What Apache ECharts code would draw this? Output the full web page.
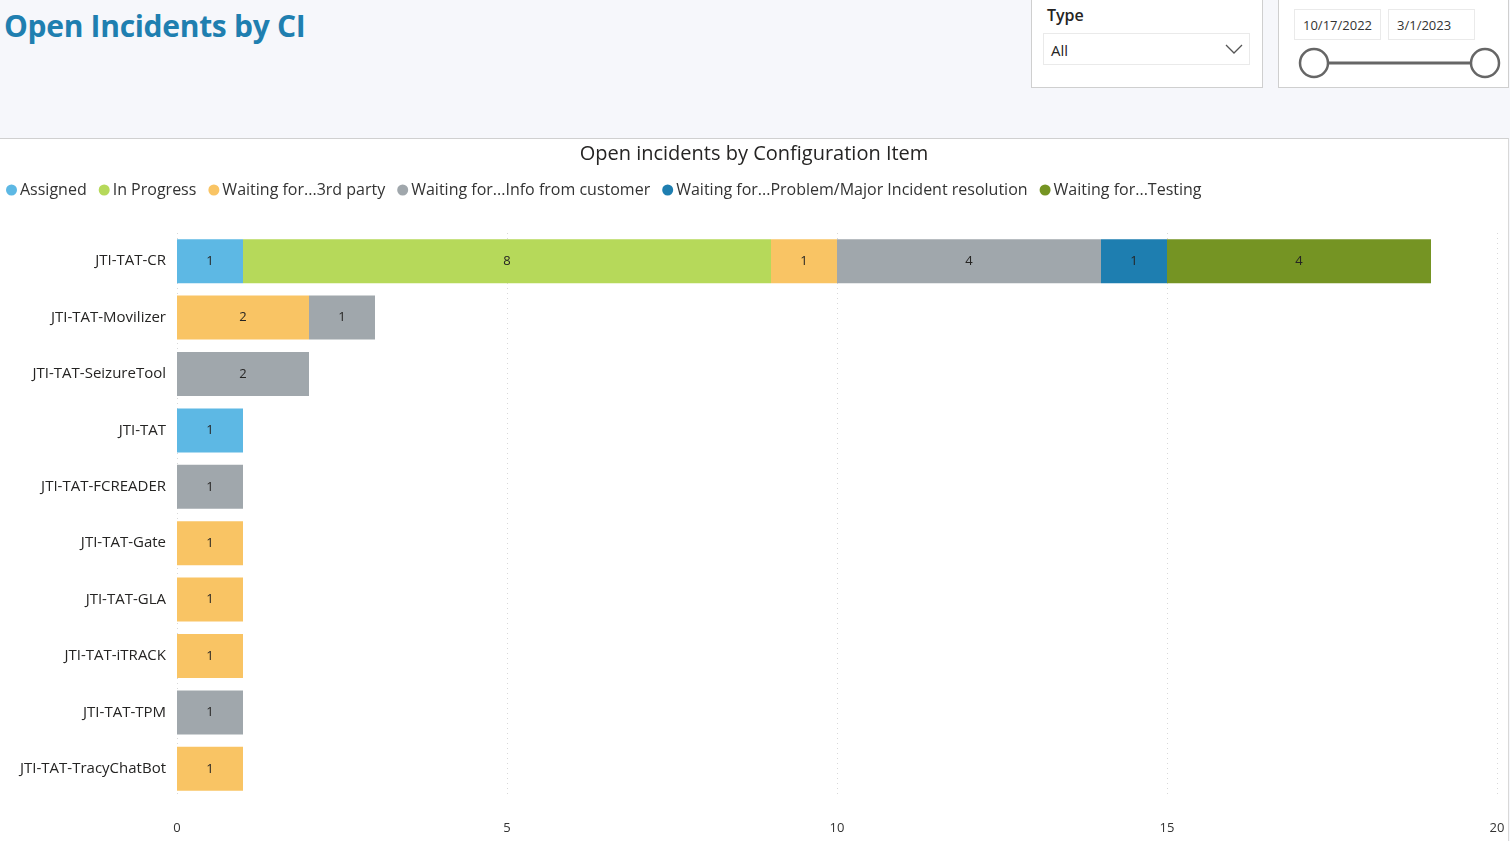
<!DOCTYPE html>
<html>
<head>
<meta charset="utf-8">
<title>Open Incidents by CI</title>
<script src="https://cdn.jsdelivr.net/npm/echarts@6/dist/echarts.min.js"></script>
<style>
    body { margin: 0; background: #f6f7fb; font-family: "Open Sans", "Noto Sans", sans-serif; }
    #page { position: relative; width: 1510px; height: 841px; overflow: hidden; }
    #page-title { position: absolute; left: 4px; top: 5px; font-size: 30px; font-weight: bold; color: #1f7fb0; letter-spacing: -0.3px; }
    .slicer { position: absolute; top: -1px; height: 89px; background: #fff; border: 1px solid #cfcfcf; box-sizing: border-box; }
    #type-slicer { left: 1031px; width: 232px; }
    #date-slicer { left: 1278px; width: 231px; }
    #type-label { position: absolute; left: 15px; top: 4px; font-size: 16px; font-weight: 600; color: #252423; }
    #type-box { position: absolute; left: 11px; top: 33px; width: 207px; height: 32px; border: 1px solid #eaeaea; box-sizing: border-box; font-size: 15px; color: #252423; padding: 6px 0 0 7px; }
    #type-box svg { position: absolute; right: 6px; top: 9px; }
    .date-box { position: absolute; top: 9px; height: 31px; border: 1px solid #eaeaea; box-sizing: border-box; font-size: 13px; color: #333; padding: 6px 0 0 8px; }
    #date-from { left: 15px; width: 87px; }
    #date-to { left: 109px; width: 87px; }
    #chart { position: absolute; left: 0; top: 138px; width: 1509px; height: 703px; background: #fff; border-top: 1px solid #d0d0d0; border-right: 1px solid #d8d8d8; box-sizing: border-box; }
</style>
</head>
<body>
<div id="page">
    <div id="page-title">Open Incidents by CI</div>
    <div class="slicer" id="type-slicer">
        <div id="type-label">Type</div>
        <div id="type-box">All
            <svg width="18" height="12"><polyline points="1,2 9,10 17,2" fill="none" stroke="#555" stroke-width="1.3"/></svg>
        </div>
    </div>
    <div class="slicer" id="date-slicer">
        <div class="date-box" id="date-from">10/17/2022</div>
        <div class="date-box" id="date-to">3/1/2023</div>
        <svg width="231" height="87" style="position:absolute;left:0;top:0">
            <line x1="35" y1="63" x2="206" y2="63" stroke="#666" stroke-width="3"/>
            <circle cx="35" cy="63" r="14" fill="#fff" stroke="#666" stroke-width="2.5"/>
            <circle cx="206" cy="63" r="14" fill="#fff" stroke="#666" stroke-width="2.5"/>
        </svg>
    </div>
    <div id="chart"></div>
</div>
<script>
var items = ['JTI-TAT-CR', 'JTI-TAT-Movilizer', 'JTI-TAT-SeizureTool', 'JTI-TAT', 'JTI-TAT-FCREADER',
    'JTI-TAT-Gate', 'JTI-TAT-GLA', 'JTI-TAT-iTRACK', 'JTI-TAT-TPM', 'JTI-TAT-TracyChatBot'];

var statuses = ['Assigned', 'In Progress', 'Waiting for...3rd party', 'Waiting for...Info from customer',
    'Waiting for...Problem/Major Incident resolution', 'Waiting for...Testing'];

var assigned     = [1, 0, 0, 1, 0, 0, 0, 0, 0, 0];
var inProgress   = [8, 0, 0, 0, 0, 0, 0, 0, 0, 0];
var thirdParty   = [1, 2, 0, 0, 0, 1, 1, 1, 0, 1];
var infoCustomer = [4, 1, 2, 0, 1, 0, 0, 0, 1, 0];
var problemRes   = [1, 0, 0, 0, 0, 0, 0, 0, 0, 0];
var testing      = [4, 0, 0, 0, 0, 0, 0, 0, 0, 0];

var xTicks = [0, 5, 10, 15, 20];

var colors = ['#5db8e4', '#b6d95a', '#f9c464', '#a0a7ac', '#1e7eb0', '#759423'];

function buildSeries() {
    var values = [assigned, inProgress, thirdParty, infoCustomer, problemRes, testing];
    return statuses.map(function (name, i) {
        return {
            name: name,
            type: 'bar',
            stack: 'total',
            barWidth: '78%',
            data: values[i].map(function (v) { return v === 0 ? null : v; }),
            label: {
                show: true,
                position: 'inside',
                color: '#252423',
                fontSize: 13,
                fontFamily: 'Open Sans'
            },
            itemStyle: { color: colors[i] }
        };
    });
}

var myChart = echarts.init(document.getElementById('chart'));
var option = {
    animation: false,
    textStyle: { fontFamily: 'Open Sans' },
    title: {
        text: 'Open incidents by Configuration Item',
        left: 'center',
        top: 0,
        textStyle: { fontSize: 20, fontWeight: 'normal', color: '#252423', fontFamily: 'Open Sans' }
    },
    legend: {
        left: 1,
        top: 38,
        icon: 'circle',
        itemWidth: 11,
        itemHeight: 11,
        itemGap: 12,
        textStyle: { fontSize: 16, color: '#333', padding: [0, 0, 0, -2] }
    },
    grid: {
        left: 177,
        right: 11,
        top: 94,
        bottom: 44,
        containLabel: false
    },
    xAxis: {
        type: 'value',
        min: 0,
        max: 20,
        interval: 5,
        axisLine: { show: false },
        axisTick: { show: false },
        axisLabel: { color: '#333', fontSize: 13, margin: 25, formatter: function (v) { return xTicks.indexOf(v) >= 0 ? v : ''; } },
        splitLine: { show: true, lineStyle: { color: '#d8d8d8', type: [1, 4] } }
    },
    yAxis: {
        type: 'category',
        data: items,
        inverse: true,
        axisLine: { show: false },
        axisTick: { show: false },
        axisLabel: { color: '#252423', fontSize: 15, margin: 11 }
    },
    series: buildSeries()
};
myChart.setOption(option);
</script>
</body>
</html>
